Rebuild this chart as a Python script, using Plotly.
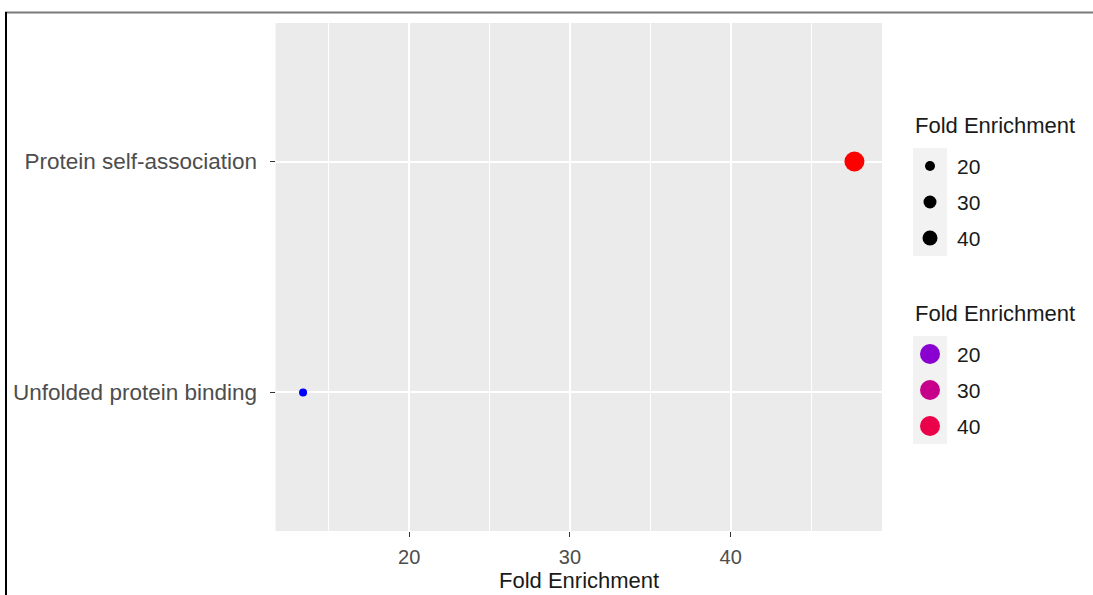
import numpy as np
import plotly.graph_objects as go

# ---------------- data ----------------
terms = ["Unfolded protein binding", "Protein self-association"]
fold_enrichment = [13.4, 47.7]
legend_breaks = [20, 30, 40]
x_ticks = [20, 30, 40]

# ---------------- helpers ----------------
W, H = 1093, 595
FONT = "Liberation Sans, Arial, sans-serif"


def _lin(c):
    c = c / 255.0
    return np.where(c <= 0.04045, c / 12.92, ((c + 0.055) / 1.055) ** 2.4)


def _gam(c):
    c = np.where(c <= 0.0031308, 12.92 * c, 1.055 * np.clip(c, 0, None) ** (1 / 2.4) - 0.055)
    return np.clip(np.round(c * 255), 0, 255)


M = np.array([[0.4124, 0.3576, 0.1805], [0.2126, 0.7152, 0.0722], [0.0193, 0.1192, 0.9505]])
WHITE = np.array([0.95047, 1.0, 1.08883])


def rgb2lab(rgb):
    xyz = M @ _lin(np.array(rgb, float)) / WHITE
    f = np.where(xyz > 0.008856, np.cbrt(xyz), 7.787 * xyz + 16 / 116)
    return np.array([116 * f[1] - 16, 500 * (f[0] - f[1]), 200 * (f[1] - f[2])])


def lab2rgb(lab):
    fy = (lab[0] + 16) / 116
    fx = fy + lab[1] / 500
    fz = fy - lab[2] / 200
    f = np.array([fx, fy, fz])
    xyz = np.where(f ** 3 > 0.008856, f ** 3, (f - 16 / 116) / 7.787) * WHITE
    return _gam(np.linalg.inv(M) @ xyz)


LOW, HIGH = rgb2lab([0, 0, 255]), rgb2lab([255, 0, 0])
vmin, vmax = min(fold_enrichment), max(fold_enrichment)


def colour(v):
    t = (v - vmin) / (vmax - vmin)
    r, g, b = lab2rgb(LOW + (HIGH - LOW) * t)
    return f"rgb({int(r)},{int(g)},{int(b)})"


def size(v, smin=8, smax=20):
    t = (v - vmin) / (vmax - vmin)
    return smin + (smax - smin) * np.sqrt(t)


# panel geometry (pixels)
PL, PR, PT, PB = 275.5, 882, 23, 531

fig = go.Figure()

ypos = list(range(len(terms)))
fig.add_trace(go.Scatter(
    x=fold_enrichment, y=ypos, mode="markers",
    marker=dict(size=[size(v) for v in fold_enrichment],
                color=[colour(v) for v in fold_enrichment], opacity=1, line=dict(width=0)),
    hoverinfo="skip", showlegend=False, xaxis="x", yaxis="y"))

# ---------- custom legends (pixel overlay axis) ----------
row_gap = 36
leg1_y0 = 166
leg2_y0 = 354
key_x = 930
lab_x = 955
black_sizes = [10, 13, 15]

fig.add_trace(go.Scatter(
    x=[key_x] * len(legend_breaks), y=[leg1_y0 + i * row_gap for i in range(len(legend_breaks))],
    mode="markers", marker=dict(size=black_sizes, color="#000000", opacity=1, line=dict(width=0)),
    hoverinfo="skip", showlegend=False, xaxis="x2", yaxis="y2"))
fig.add_trace(go.Scatter(
    x=[key_x] * len(legend_breaks), y=[leg2_y0 + i * row_gap for i in range(len(legend_breaks))],
    mode="markers", marker=dict(size=20, color=[colour(v) for v in legend_breaks], opacity=1, line=dict(width=0)),
    hoverinfo="skip", showlegend=False, xaxis="x2", yaxis="y2"))

shapes = [
    # gray panel (below the main subplot's grid)
    dict(type="rect", xref="x domain", yref="y domain", x0=0, x1=1, y0=0, y1=1,
         fillcolor="#EBEBEB", line=dict(width=0), layer="below"),
    # legend key backgrounds
    dict(type="rect", xref="x2", yref="y2", x0=913, x1=947, y0=leg1_y0 - 18, y1=leg1_y0 + 2 * row_gap + 18,
         fillcolor="#F2F2F2", line=dict(width=0), layer="below"),
    dict(type="rect", xref="x2", yref="y2", x0=913, x1=947, y0=leg2_y0 - 18, y1=leg2_y0 + 2 * row_gap + 18,
         fillcolor="#F2F2F2", line=dict(width=0), layer="below"),
    # page borders
    dict(type="line", xref="x2", yref="y2", x0=5, x1=W, y0=12.5, y1=12.5, line=dict(color="#7a7a7a", width=2)),
    dict(type="line", xref="x2", yref="y2", x0=6, x1=6, y0=12, y1=H, line=dict(color="black", width=2)),
]

annotations = []
for i, v in enumerate(legend_breaks):
    for y0 in (leg1_y0, leg2_y0):
        annotations.append(dict(xref="x2", yref="y2", x=lab_x, y=y0 + i * row_gap, text=str(v),
                                showarrow=False, xanchor="left", yanchor="middle",
                                font=dict(family=FONT, size=21, color="#1a1a1a")))
for y in (125, 313):
    annotations.append(dict(xref="x2", yref="y2", x=913, y=y, text="Fold Enrichment",
                            showarrow=False, xanchor="left", yanchor="middle",
                            font=dict(family=FONT, size=22, color="#1a1a1a")))
annotations.append(dict(xref="x2", yref="y2", x=(PL + PR) / 2, y=580, text="Fold Enrichment",
                        showarrow=False, xanchor="center", yanchor="middle",
                        font=dict(family=FONT, size=22, color="#1a1a1a")))

span = vmax - vmin
fig.update_layout(
    width=W, height=H, autosize=False,
    margin=dict(l=0, r=0, t=0, b=0),
    paper_bgcolor="white", plot_bgcolor="rgba(0,0,0,0)",
    shapes=shapes, annotations=annotations,
    xaxis=dict(domain=[PL / W, PR / W], range=[vmin - 0.05 * span, vmax + 0.05 * span],
               tickvals=x_ticks, ticks="outside", ticklen=5, tickcolor="#333333", tickwidth=1,
               tickfont=dict(family=FONT, size=20, color="#4D4D4D"), ticklabelstandoff=3,
               showgrid=True, gridcolor="white", gridwidth=2, zeroline=False, showline=False,
               minor=dict(dtick=5, tick0=0, showgrid=True, gridcolor="white", gridwidth=1, ticks=""),
               anchor="y"),
    yaxis=dict(domain=[1 - PB / H, 1 - PT / H], range=[-0.6, len(terms) - 1 + 0.6],
               tickvals=ypos, ticktext=terms, ticks="outside", ticklen=5, tickcolor="#333333", tickwidth=1,
               tickfont=dict(family=FONT, size=22.5, color="#4D4D4D"), ticklabelstandoff=8,
               showgrid=True, gridcolor="white", gridwidth=2, zeroline=False, showline=False,
               anchor="x"),
    xaxis2=dict(domain=[0, 1], range=[0, W], visible=False, fixedrange=True, anchor="y2"),
    yaxis2=dict(domain=[0, 1], range=[H, 0], visible=False, fixedrange=True, anchor="x2"),
)

fig.write_html("out.html")
